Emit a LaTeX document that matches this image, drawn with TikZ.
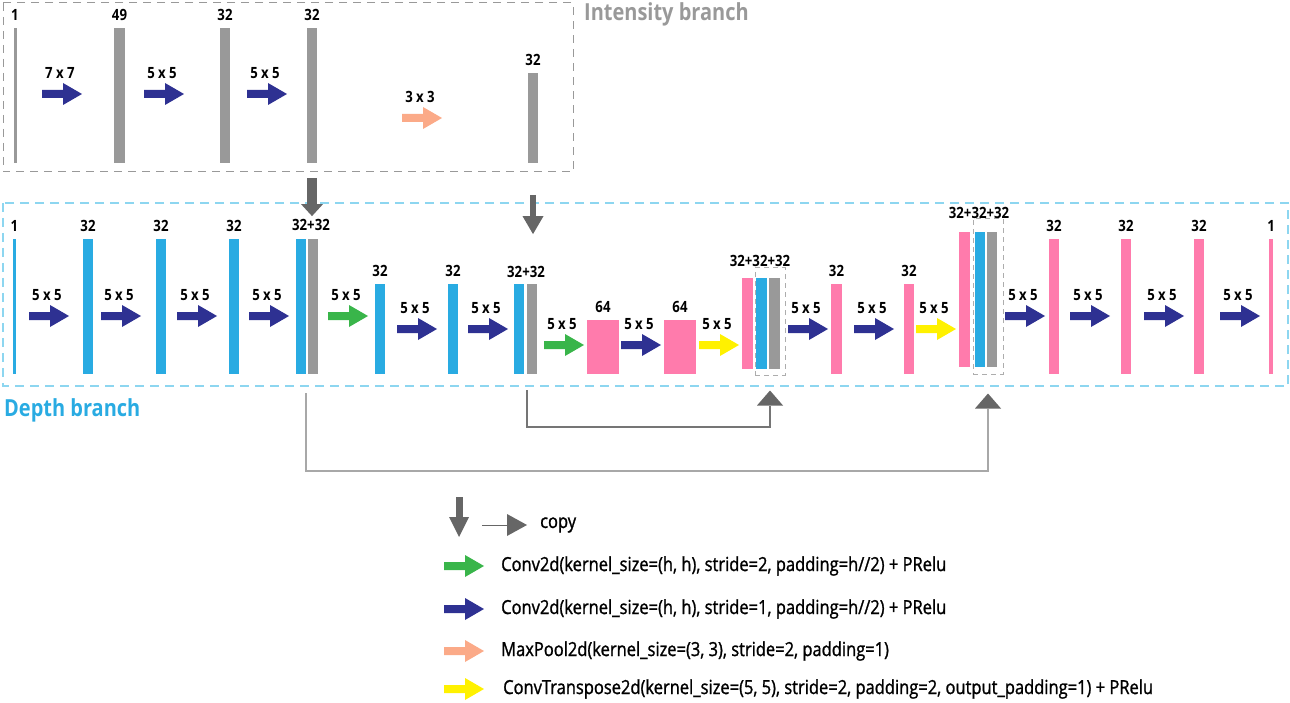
\documentclass[tikz,border=0pt]{standalone}
\usepackage{fontspec}
\setmainfont{Open Sans}[FakeStretch=0.85]
\newfontfamily\legendfont{Open Sans}[FakeStretch=0.85,FakeBold=1.2]
\usetikzlibrary{arrows.meta,positioning}

\definecolor{depthblue}{HTML}{29ABE2}
\definecolor{intgray}{HTML}{999999}
\definecolor{uppink}{HTML}{FF7BAC}
\definecolor{convblue}{HTML}{2E3192}
\definecolor{convgreen}{HTML}{39B54A}
\definecolor{poolsalmon}{HTML}{FBAA88}
\definecolor{upyellow}{HTML}{FFF100}
\definecolor{copygray}{HTML}{666666}
\definecolor{boxblue}{HTML}{8DD6F0}

\tikzset{
	bar/.style={draw=none, inner sep=0pt, outer sep=0pt},
	num/.style={font=\bfseries\fontsize{15.5}{17}\selectfont, inner sep=1pt},
	legend/.style={anchor=west, inner sep=0pt, font=\legendfont\fontsize{19.4}{22}\selectfont},
	bracket/.style={draw=intgray!80, dash pattern=on 5pt off 4pt, line width=1pt, inner sep=0pt},
	copyarrow/.style={copygray, -{Triangle[width=22pt,length=12pt,line width=0pt]}},
	skip/.style={line width=1.3pt, -{Triangle[width=26pt,length=15pt,color=copygray,line width=0pt]}},
}

% bar of a layer: name, x centre, top, bottom, width, colour
\def\layer#1#2#3#4#5#6{\node[bar, fill=#6, minimum width=#5, minimum height={#4-#3}] (#1) at (#2, {(#3+#4)/2}) {};}
% block arrow: colour, tail x, centre y
\def\blockarrow[#1](#2,#3){\fill[#1] (#2,#3-4) -- (#2+21,#3-4) -- (#2+21,#3-11) -- (#2+40,#3) -- (#2+21,#3+11) -- (#2+21,#3+4) -- (#2,#3+4) -- cycle;}
% block arrow with its kernel size above
\def\convstep[#1](#2,#3)#4#5{\blockarrow[#1](#2,#3) \node[num] (#4) at (#2+18,#3-21) {#5};}

\begin{document}
\begin{tikzpicture}[x=1pt,y=-1pt]
	%%%%% START %%%%%
	\useasboundingbox (0,0) rectangle (1290,703);
	
	% intensity branch
	\draw[intgray, line width=1pt, dash pattern=on 8pt off 6pt] (3,3) rectangle (573,172);
	\node[anchor=west, intgray, inner sep=0pt, font=\bfseries\fontsize{23.5}{26}\selectfont] (ititle) at (584,14) {Intensity branch};
	
	\layer{i1}{15}{28}{163}{3}{intgray}
	\layer{i2}{119.5}{28}{163}{11}{intgray}
	\layer{i3}{225}{28}{163}{10}{intgray}
	\layer{i4}{312}{28}{163}{10}{intgray}
	\layer{i5}{533}{73}{163}{10}{intgray}
	\node[num, above=6pt of i1] (n-i1) {1};
	\node[num, above=6pt of i2] (n-i2) {49};
	\node[num, above=6pt of i3] (n-i3) {32};
	\node[num, above=6pt of i4] (n-i4) {32};
	\node[num, above=6pt of i5] (n-i5) {32};
	
	\convstep[convblue](42,94){k-i1}{7 x 7}
	\convstep[convblue](144,94){k-i2}{5 x 5}
	\convstep[convblue](247,94){k-i3}{5 x 5}
	\convstep[poolsalmon](402,118){k-i4}{3 x 3}
	
	% depth branch
	\draw[boxblue, line width=1.5pt, dash pattern=on 9pt off 6pt] (3,203) rectangle (1288,386);
	\node[anchor=west, depthblue, inner sep=0pt, font=\bfseries\fontsize{23.5}{26}\selectfont] (dtitle) at (4,410) {Depth branch};
	
	\layer{d1}{14.5}{239}{374}{3}{depthblue}
	\layer{d2}{88}{239}{374}{10}{depthblue}
	\layer{d3}{161}{239}{374}{10}{depthblue}
	\layer{d4}{234}{239}{374}{10}{depthblue}
	\layer{d5b}{301}{239}{374}{10}{depthblue}
	\layer{d5g}{313}{239}{374}{10}{intgray}
	\layer{d6}{380}{284}{374}{10}{depthblue}
	\layer{d7}{453}{284}{374}{10}{depthblue}
	\layer{d8b}{519}{284}{374}{10}{depthblue}
	\layer{d8g}{532}{284}{374}{10}{intgray}
	\layer{d9}{603}{320}{374}{32}{uppink}
	\layer{d10}{680}{320}{374}{32}{uppink}
	\layer{d11p}{747.5}{278}{369}{11}{uppink}
	\layer{d11b}{761.5}{278}{369}{11}{depthblue}
	\layer{d11g}{774.5}{278}{369}{11}{intgray}
	\layer{d12}{836.5}{284}{374}{11}{uppink}
	\layer{d13}{909}{284}{374}{10}{uppink}
	\layer{d14p}{964.5}{232}{367}{11}{uppink}
	\layer{d14b}{980}{232}{367}{10}{depthblue}
	\layer{d14g}{992}{232}{367}{10}{intgray}
	\layer{d15}{1054}{239}{374}{10}{uppink}
	\layer{d16}{1126}{239}{374}{10}{uppink}
	\layer{d17}{1199}{239}{374}{10}{uppink}
	\layer{d18}{1271}{239}{374}{4}{uppink}
	
	\node[bracket, minimum width=30, minimum height=107] (b11) at (770,321.5) {};
	\node[bracket, minimum width=30, minimum height=155] (b14) at (988,296.5) {};
	
	\node[num, above=6pt of d1] (n-d1) {1};
	\node[num, above=6pt of d2] (n-d2) {32};
	\node[num, above=6pt of d3] (n-d3) {32};
	\node[num, above=6pt of d4] (n-d4) {32};
	\node[num] (n-d5) at (311,225) {32+32};
	\node[num, above=6pt of d6] (n-d6) {32};
	\node[num, above=6pt of d7] (n-d7) {32};
	\node[num] (n-d8) at (526,272) {32+32};
	\node[num, above=6pt of d9] (n-d9) {64};
	\node[num, above=6pt of d10] (n-d10) {64};
	\node[num] (n-d11) at (760,261) {32+32+32};
	\node[num, above=6pt of d12] (n-d12) {32};
	\node[num, above=6pt of d13] (n-d13) {32};
	\node[num] (n-d14) at (979,213) {32+32+32};
	\node[num, above=6pt of d15] (n-d15) {32};
	\node[num, above=6pt of d16] (n-d16) {32};
	\node[num, above=6pt of d17] (n-d17) {32};
	\node[num, above=6pt of d18] (n-d18) {1};
	
	\convstep[convblue](29,316){k-d1}{5 x 5}
	\convstep[convblue](101,316){k-d2}{5 x 5}
	\convstep[convblue](177,316){k-d3}{5 x 5}
	\convstep[convblue](249,316){k-d4}{5 x 5}
	\convstep[convgreen](328,316){k-d5}{5 x 5}
	\convstep[convblue](397,329){k-d6}{5 x 5}
	\convstep[convblue](468,329){k-d7}{5 x 5}
	\convstep[convgreen](544,345){k-d8}{5 x 5}
	\convstep[convblue](621,345){k-d9}{5 x 5}
	\convstep[upyellow](699,345){k-d10}{5 x 5}
	\convstep[convblue](788,329){k-d11}{5 x 5}
	\convstep[convblue](854,329){k-d12}{5 x 5}
	\convstep[upyellow](916,329){k-d13}{5 x 5}
	\convstep[convblue](1005,316){k-d14}{5 x 5}
	\convstep[convblue](1070,316){k-d15}{5 x 5}
	\convstep[convblue](1144,316){k-d16}{5 x 5}
	\convstep[convblue](1220,316){k-d17}{5 x 5}
	
	% copies from intensity to depth
	\coordinate (t5) at (i4.south |- n-d5.north);
	\coordinate (t8) at (i5.south |- n-d8.north);
	\draw[copyarrow, line width=10pt] ([yshift=-15pt]i4.south) -- ([yshift=2pt]t5);
	\draw[copygray, line width=6pt, -{Triangle[width=21pt,length=18pt,line width=0pt]}] ([yshift=-32pt]i5.south) -- ([yshift=31pt]t8);
	
	% skip connections
	\draw[skip, intgray!85] ([yshift=-19pt]d5b.south east) -- ++(0,78) -| ([yshift=-19pt]b14.south);
	\draw[skip, copygray!90] ([yshift=-16pt]d8g.south west) -- ++(0,37) -| ([yshift=-15pt]b11.south);
	
	% legend
	\coordinate (lg-a) at (459,497);
	\coordinate (lg-b) at (459,537);
	\coordinate (lg-c) at (482,525);
	\coordinate (lg-d) at (527,525);
	\draw[copygray, line width=7pt, -{Triangle[width=20pt,length=20pt,line width=0pt]}] (lg-a) -- (lg-b);
	\draw[copygray, line width=1pt, -{Triangle[width=22pt,length=20pt,line width=0pt]}] (lg-c) -- (lg-d);
	\node[legend] (leg-copy) at (540,525) {copy};
	
	\blockarrow[convgreen](444,566)
	\node[legend] (leg-green) at (501,566) {Conv2d(kernel\_size=(h, h), stride=2, padding=h//2) + PRelu};
	\blockarrow[convblue](444,609)
	\node[legend] (leg-blue) at (501,609) {Conv2d(kernel\_size=(h, h), stride=1, padding=h//2) + PRelu};
	\blockarrow[poolsalmon](444,651)
	\node[legend] (leg-pool) at (501,651) {MaxPool2d(kernel\_size=(3, 3), stride=2, padding=1)};
	\blockarrow[upyellow](444,689)
	\node[legend] (leg-yellow) at (503,689) {ConvTranspose2d(kernel\_size=(5, 5), stride=2, padding=2, output\_padding=1) + PRelu};
	
	%%%%% END %%%%%
\end{tikzpicture}
\end{document}
